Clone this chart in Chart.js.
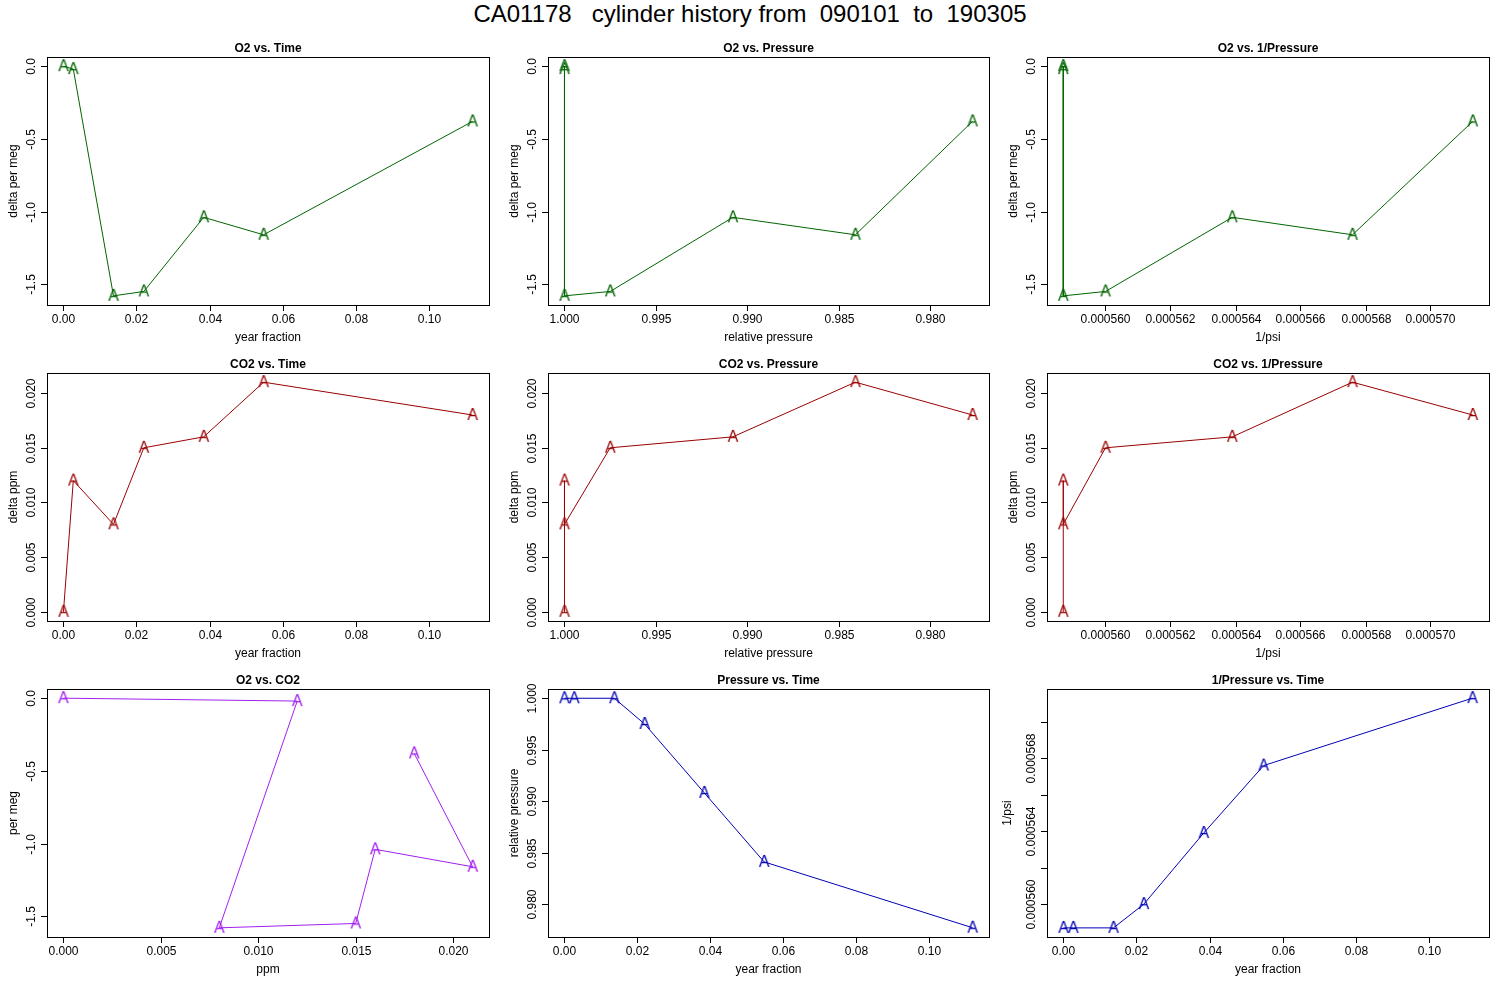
<!DOCTYPE html>
<html><head><meta charset="utf-8">
<script src="https://cdn.jsdelivr.net/npm/chart.js@4/dist/chart.umd.min.js"></script>
<style>
body{margin:0;background:#fff;width:1500px;height:1000px;position:relative;overflow:hidden;font-family:"Liberation Sans",Arial,sans-serif}
#title{position:absolute;top:0;left:0;width:1500px;text-align:center;font-size:24px;line-height:28px;white-space:pre}
canvas{position:absolute}
</style></head><body>
<div id="title">CA01178   cylinder history from  090101  to  190305</div>
<script>
// ---- data ----
const yearFraction = [0, 0.0027, 0.0137, 0.022, 0.0384, 0.0548, 0.112];
const o2PerMeg     = [0, -0.02, -1.58, -1.55, -1.04, -1.16, -0.38];
const co2Ppm       = [0, 0.012, 0.008, 0.015, 0.016, 0.021, 0.018];
const relPressure  = [1.0, 1.0, 1.0, 0.9975, 0.9908, 0.9841, 0.9777];
const invPsi       = [0.0005587, 0.0005587, 0.0005587, 0.0005600, 0.0005639, 0.0005676, 0.0005713];

const timeTicks = [0, 0.02, 0.04, 0.06, 0.08, 0.10];
const o2Ticks = [0, -0.5, -1.0, -1.5];
const co2Ticks = [0, 0.005, 0.010, 0.015, 0.020];
const presTicks = [1.000, 0.995, 0.990, 0.985, 0.980];
const invTicks = [0.000560, 0.000562, 0.000564, 0.000566, 0.000568, 0.000570];
const invTicksY = [0.000560, 0.000562, 0.000564, 0.000566, 0.000568, 0.000570];

const C = {green:'#006400', red:'#9a0000', purple:'#a020f0', blue:'#0000b4'};

const AX = {
  time:{min:-0.0045,max:0.1165,ticks:timeTicks,fmt:v=>v.toFixed(2),label:'year fraction'},
  pres:{min:0.9768,max:1.0009,ticks:presTicks,fmt:v=>v.toFixed(3),label:'relative pressure',reverse:true},
  inv:{min:0.0005582,max:0.0005718,ticks:invTicks,fmt:v=>v.toFixed(6),label:'1/psi'},
  o2:{min:-1.643,max:0.063,ticks:o2Ticks,fmt:v=>v.toFixed(1),label:'delta per meg'},
  co2:{min:-0.00084,max:0.02184,ticks:co2Ticks,fmt:v=>v.toFixed(3),label:'delta ppm'}
};

function letterA(color){
  const c=document.createElement('canvas');c.width=16;c.height=18;
  const g=c.getContext('2d');g.fillStyle=color;g.font='16px "Liberation Sans",Arial';
  g.textAlign='center';g.textBaseline='middle';g.fillText('A',8,10);return c;
}

const panels = [
  {t:'O2 vs. Time',x:AX.time,y:AX.o2,xs:yearFraction,ys:o2PerMeg,c:C.green},
  {t:'O2 vs. Pressure',x:AX.pres,y:AX.o2,xs:relPressure,ys:o2PerMeg,c:C.green},
  {t:'O2 vs. 1/Pressure',x:AX.inv,y:AX.o2,xs:invPsi,ys:o2PerMeg,c:C.green},
  {t:'CO2 vs. Time',x:AX.time,y:AX.co2,xs:yearFraction,ys:co2Ppm,c:C.red},
  {t:'CO2 vs. Pressure',x:AX.pres,y:AX.co2,xs:relPressure,ys:co2Ppm,c:C.red},
  {t:'CO2 vs. 1/Pressure',x:AX.inv,y:AX.co2,xs:invPsi,ys:co2Ppm,c:C.red},
  {t:'O2 vs. CO2',x:Object.assign({},AX.co2,{label:'ppm'}),y:Object.assign({},AX.o2,{label:'per meg'}),xs:co2Ppm,ys:o2PerMeg,c:C.purple},
  {t:'Pressure vs. Time',x:AX.time,y:Object.assign({},AX.pres,{reverse:false}),xs:yearFraction,ys:relPressure,c:C.blue},
  {t:'1/Pressure vs. Time',x:AX.time,y:Object.assign({},AX.inv,{ticks:invTicksY,label:'1/psi',skip:true}),xs:yearFraction,ys:invPsi,c:C.blue}
];

const frame = {
  id:'frame',
  afterDraw(ch,args,o){
    const g=ch.ctx,a=ch.chartArea,p=o.p;
    g.save();
    g.strokeStyle='#000';g.lineWidth=1;
    g.strokeRect(Math.round(a.left)+0.5,Math.round(a.top)+0.5,Math.round(a.right-a.left),Math.round(a.bottom-a.top));
    g.fillStyle='#000';
    g.font='bold 12px "Liberation Sans",Arial';g.textAlign='center';g.textBaseline='alphabetic';
    g.fillText(p.t,(a.left+a.right)/2,a.top-5);
    g.font='12px "Liberation Sans",Arial';
    const xs=ch.scales.x, ys=ch.scales.y;
    xs.ticks.forEach(t=>{const px=Math.round(xs.getPixelForValue(t.value))+0.5;
      g.beginPath();g.moveTo(px,a.bottom);g.lineTo(px,a.bottom+6);g.stroke();
      g.textBaseline='top';g.fillText(p.x.fmt(t.value),px,a.bottom+9);});
    g.textBaseline='top';g.fillText(p.x.label,(a.left+a.right)/2,a.bottom+27);
    ys.ticks.forEach((t,i)=>{const py=Math.round(ys.getPixelForValue(t.value))+0.5;
      g.beginPath();g.moveTo(a.left,py);g.lineTo(a.left-6,py);g.stroke();
      if(p.y.skip && i%2) return;
      g.save();g.translate(a.left-9,py);g.rotate(-Math.PI/2);g.textBaseline='bottom';g.textAlign='center';
      g.fillText(p.y.fmt(t.value),0,0);g.restore();});
    g.save();g.translate(a.left-(p.y.skip?33:27),(a.top+a.bottom)/2);g.rotate(-Math.PI/2);
    g.textBaseline='bottom';g.textAlign='center';g.fillText(p.y.label,0,0);g.restore();
    g.restore();
  }
};

panels.forEach((p,i)=>{
  const col=i%3,row=Math.floor(i/3);
  const cv=document.createElement('canvas');
  cv.width=500;cv.height=316;
  cv.style.left=(col*500)+'px';cv.style.top=(30+row*316)+'px';
  cv.style.width='500px';cv.style.height='316px';
  document.body.appendChild(cv);
  const wLeft=[47,48,47][col];
  const mk=(ax,isY)=>({type:'linear',min:ax.min,max:ax.max,reverse:!!ax.reverse,
    afterBuildTicks:s=>{s.ticks=ax.ticks.map(v=>({value:v}));},
    afterFit:s=>{ if(isY) s.width=wLeft; else s.height=41; },
    grid:{display:false,drawTicks:false},border:{display:false},
    ticks:{display:false},title:{display:false}});
  new Chart(cv,{
    type:'scatter',
    data:{datasets:[{data:p.xs.map((x,k)=>({x:x,y:p.ys[k]})),showLine:true,
      borderColor:p.c,borderWidth:1,pointStyle:letterA(p.c),pointRadius:8,pointHoverRadius:8}]},
    options:{responsive:false,animation:false,devicePixelRatio:1,
      layout:{padding:{top:27,right:11,left:0,bottom:0}},
      plugins:{legend:{display:false},tooltip:{enabled:false},title:{display:false},frame:{p:p}},
      scales:{x:mk(p.x,false),y:mk(p.y,true)}},
    plugins:[frame]
  });
});
</script>
</body></html>
